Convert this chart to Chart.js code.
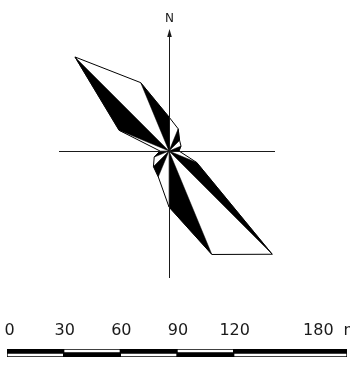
<!DOCTYPE html>
<html><head><meta charset="utf-8">
<script src="https://cdn.jsdelivr.net/npm/chart.js@4/dist/chart.umd.min.js"></script>
<style>
html,body{margin:0;padding:0;background:#fff;width:350px;height:371px;overflow:hidden;position:relative}
#rose{position:absolute;left:19px;top:1px;width:300px;height:300px}
#bar{position:absolute;left:0;top:310px;width:350px;height:50px}
</style></head><body>
<div id="rose"><canvas id="c1"></canvas></div>
<div id="bar"><canvas id="c2"></canvas></div>
<script>
// Rose diagram: 16 directions (22.5° apart), frequency per direction
const directions = ['N','NNE','NE','ENE','E','ESE','SE','SSE','S','SSW','SW','WSW','W','WNW','NW','NNW'];
const frequencies = [3.4, 2.4, 1.5, 1.3, 1.0, 3.0, 14.6, 11.2, 5.6, 2.8, 2.2, 1.6, 0.9, 5.4, 13.3, 7.4];
const northLabel = 'N';
// Scale bar
const scaleTicks = [0, 30, 60, 90, 120, 180];
const scaleUnit = 'm';

const n = directions.length;
const blackPairs = [];
for (let k = 1; k < n; k += 2) blackPairs.push([k, (k + 1) % n]);

const axesPlugin = {
  id: 'roseAxes',
  afterDatasetsDraw(chart) {
    const s = chart.scales.r, ctx = chart.ctx;
    const p = (i, v) => s.getPointPositionForValue(i, v);
    const top = p(0, 11.4), bottom = p(n / 2, 12.7), left = p(3 * n / 4, 11.0), right = p(n / 4, 10.6);
    ctx.save();
    ctx.strokeStyle = '#1a1a1a';
    ctx.lineWidth = 1;
    ctx.beginPath();
    ctx.moveTo(top.x + 0.5, top.y); ctx.lineTo(bottom.x + 0.5, bottom.y);
    ctx.moveTo(left.x, left.y + 0.5); ctx.lineTo(right.x, right.y + 0.5);
    ctx.stroke();
    const tip = p(0, 12.2);
    ctx.fillStyle = '#1a1a1a';
    ctx.beginPath();
    ctx.moveTo(tip.x + 0.5, tip.y);
    ctx.lineTo(tip.x + 0.5 - 2.3, tip.y + 8);
    ctx.lineTo(tip.x + 0.5 + 2.3, tip.y + 8);
    ctx.closePath();
    ctx.fill();
    const lab = p(0, 13.2);
    ctx.font = '12px "DejaVu Sans"';
    ctx.textAlign = 'center';
    ctx.textBaseline = 'middle';
    ctx.fillText(northLabel, lab.x + 0.5, lab.y);
    ctx.restore();
  }
};

new Chart(document.getElementById('c1'), {
  type: 'radar',
  data: {
    labels: directions,
    datasets: [
      { data: frequencies, borderColor: '#000', borderWidth: 1, fill: false, pointRadius: 0 },
      ...blackPairs.map(([a, b]) => ({
        data: frequencies.map((v, i) => (i === a || i === b) ? v : 0),
        backgroundColor: '#000', borderColor: '#000', borderWidth: 0.5, fill: 'origin', pointRadius: 0
      }))
    ]
  },
  options: {
    responsive: true, maintainAspectRatio: false, animation: false,
    layout: { padding: 0 },
    elements: { line: { tension: 0 } },
    plugins: { legend: { display: false }, tooltip: { enabled: false } },
    scales: {
      r: {
        min: 0, max: 15, startAngle: 0,
        ticks: { display: false },
        grid: { display: false },
        angleLines: { display: false },
        pointLabels: { display: false }
      }
    }
  },
  plugins: [axesPlugin]
});

const segs = [];
for (let i = 1; i < scaleTicks.length; i++) segs.push(scaleTicks[i] - scaleTicks[i - 1]);

const labelPlugin = {
  id: 'scaleLabels',
  afterDraw(chart) {
    const x = chart.scales.x, ctx = chart.ctx;
    const base = chart.chartArea.top - 14;
    ctx.save();
    ctx.font = '16px "DejaVu Sans"';
    ctx.fillStyle = '#1a1a1a';
    ctx.textBaseline = 'alphabetic';
    const last = scaleTicks.length - 1;
    scaleTicks.forEach((t, i) => {
      const px = x.getPixelForValue(t);
      if (i === last) {
        ctx.textAlign = 'right';
        ctx.fillText(String(t), px - 13.4, base);
        ctx.textAlign = 'left';
        ctx.fillText(scaleUnit, px - 3.4, base);
      } else {
        ctx.textAlign = 'center';
        ctx.fillText(String(t), px + (i === 0 ? 2.7 : 1), base);
      }
    });
    ctx.restore();
  }
};

new Chart(document.getElementById('c2'), {
  type: 'bar',
  data: {
    labels: ['upper', 'lower'],
    datasets: segs.map((len, i) => ({
      data: [len, len],
      backgroundColor: i % 2 === 0 ? ['#000', '#fff'] : ['#fff', '#000'],
      borderColor: '#000', borderWidth: 1, borderSkipped: false,
      barPercentage: 1, categoryPercentage: 1
    }))
  },
  options: {
    indexAxis: 'y',
    responsive: true, maintainAspectRatio: false, animation: false,
    layout: { padding: { left: 7, right: 3, top: 39, bottom: 3 } },
    plugins: { legend: { display: false }, tooltip: { enabled: false } },
    scales: {
      x: { display: false, min: 0, max: 180, stacked: true },
      y: { display: false, stacked: true }
    }
  },
  plugins: [labelPlugin]
});
</script>
</body></html>
